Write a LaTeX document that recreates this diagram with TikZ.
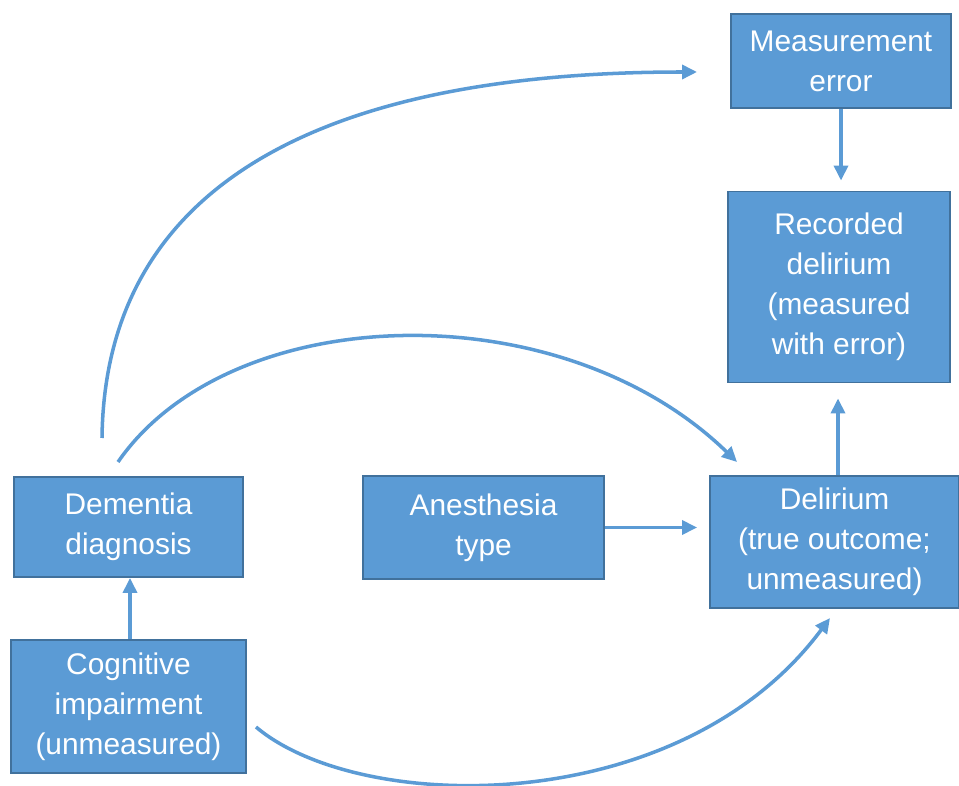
\documentclass[tikz,border=0pt]{standalone}
\usepackage{fontspec}
\setmainfont{Liberation Sans}
\usetikzlibrary{arrows.meta}
\definecolor{boxfill}{HTML}{5B9BD5}
\definecolor{boxline}{HTML}{41719C}
\tikzset{
	dagbox/.style={draw=boxline, line width=1.1pt, fill=boxfill, text=white, align=center,
		inner sep=0pt, font=\fontsize{17}{22.8}\selectfont},
	dagarrow/.style={draw=boxfill, line width=2pt, -{Triangle[length=0.3cm,width=0.28cm]}}
}
\begin{document}
	\begin{tikzpicture}[x=0.02cm, y=-0.02cm]
		\useasboundingbox (0,0) rectangle (959,786);
		\node[dagbox, minimum width=4.4cm, minimum height=1.88cm] (meas) at (841,61) {Measurement\\error};
		\node[dagbox, minimum width=4.44cm, minimum height=3.82cm] (rec) at (839,287) {Recorded\\delirium\\(measured\\with error)};
		\node[dagbox, minimum width=4.98cm, minimum height=2.64cm] (del) at (834.5,542) {Delirium\\(true outcome;\\unmeasured)};
		\node[dagbox, minimum width=4.82cm, minimum height=2.06cm] (anes) at (483.5,527.5) {Anesthesia\\type};
		\node[dagbox, minimum width=4.58cm, minimum height=2.0cm] (dem) at (128.5,527) {Dementia\\diagnosis};
		\node[dagbox, minimum width=4.7cm, minimum height=2.66cm] (cog) at (128.5,706.5) {Cognitive\\impairment\\(unmeasured)};
		% free ends of the curved arrows
		\coordinate (c1) at (102,438);
		\coordinate (c2) at (118,462);
		\coordinate (c3) at (256,727);
		\coordinate (e1) at (697,72);
		\coordinate (e2) at (737,462);
		\coordinate (e3) at (830,618);

		\draw[dagarrow, shorten >=0.2cm] (meas.south -| 841,0) -- (rec.north -| 841,0);
		\draw[dagarrow, shorten >=0.3cm] (del.north -| 838,0) -- (rec.south -| 838,0);
		\draw[dagarrow, shorten >=0.24cm] (anes.east) -- (del.west |- anes.east);
		\draw[dagarrow] (cog.north -| 130,0) -- (dem.south -| 130,0);
		\draw[dagarrow] (c1) .. controls (105,180) and (330,72) .. (e1);
		\draw[dagarrow] (c2) .. controls (230,300) and (560,290) .. (e2);
		\draw[dagarrow] (c3) .. controls (360,815) and (680,820) .. (e3);
	\end{tikzpicture}
\end{document}
